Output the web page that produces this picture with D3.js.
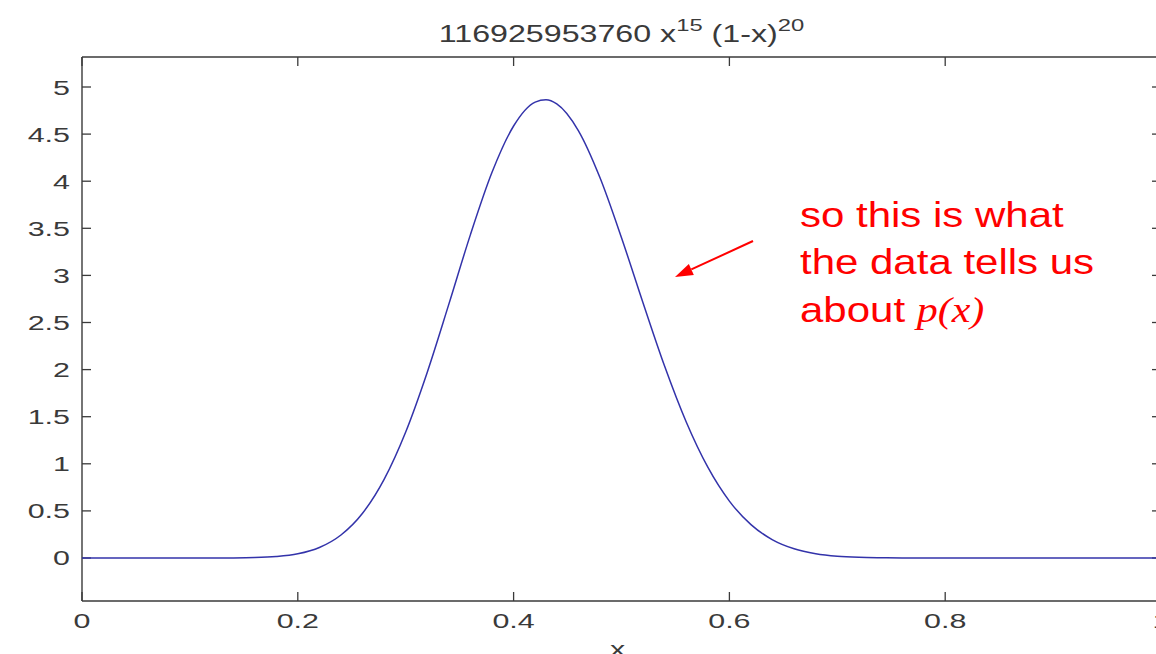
<!DOCTYPE html>
<html>
<head>
<meta charset="utf-8">
<script src="https://cdn.jsdelivr.net/npm/d3@7"></script>
<style>
html,body{margin:0;padding:0;background:#fff;}
svg{display:block;}
</style>
</head>
<body>
<svg id="chart" width="1156" height="654"></svg>
<script>
// Values
const xValues = [0, 0.10, 0.12, 0.14, 0.16, 0.18, 0.20, 0.22, 0.24, 0.26, 0.28, 0.30, 0.32, 0.34, 0.36, 0.38, 0.40, 0.42, 0.43, 0.44, 0.46, 0.48, 0.50, 0.52, 0.54, 0.56, 0.58, 0.60, 0.62, 0.64, 0.66, 0.68, 0.70, 0.72, 0.74, 0.76, 0.80, 1.0];
const yValues = [0, 0.000, 0.0001, 0.0009, 0.004, 0.015, 0.044, 0.111, 0.244, 0.475, 0.835, 1.338, 1.973, 2.695, 3.433, 4.094, 4.586, 4.840, 4.865, 4.821, 4.538, 4.039, 3.400, 2.707, 2.035, 1.444, 0.964, 0.604, 0.354, 0.193, 0.098, 0.046, 0.019, 0.007, 0.0025, 0.0008, 0, 0];
const xTicks = [0, 0.2, 0.4, 0.6, 0.8, 1];
const xTickLabels = ["0", "0.2", "0.4", "0.6", "0.8", "1"];
const yTicks = [0, 0.5, 1, 1.5, 2, 2.5, 3, 3.5, 4, 4.5, 5];
const yTickLabels = ["0", "0.5", "1", "1.5", "2", "2.5", "3", "3.5", "4", "4.5", "5"];
const yLimits = [-0.4565, 5.3185];
const annotationLines = ["so this is what", "the data tells us", "about "];

(function () {
const svg = d3.select("#chart");
const pLeft = 82, pRight = 1161, pTop = 57, pBottom = 601;
const x = d3.scaleLinear().domain([0, 1]).range([pLeft, pRight]);
const y = d3.scaleLinear().domain(yLimits).range([pBottom, pTop]);

const axisColor = "#3a3a3a";
const textColor = "#3a3a3a";
const SX = 1.45;
const tickLen = 9;

// plot box
const box = svg.append("g").attr("stroke", axisColor).attr("stroke-width", 1.4).attr("fill", "none");
box.append("line").attr("x1", pLeft).attr("x2", pLeft).attr("y1", pTop).attr("y2", pBottom);
box.append("line").attr("x1", pLeft).attr("x2", pRight).attr("y1", pBottom).attr("y2", pBottom);
box.append("line").attr("x1", pLeft).attr("x2", pRight).attr("y1", pTop).attr("y2", pTop);
box.append("line").attr("x1", pRight).attr("x2", pRight).attr("y1", pTop).attr("y2", pBottom);

// ticks
const tk = svg.append("g").attr("stroke", axisColor).attr("stroke-width", 1.3);
xTicks.forEach(v => {
  tk.append("line").attr("x1", x(v)).attr("x2", x(v)).attr("y1", pBottom).attr("y2", pBottom - tickLen);
  tk.append("line").attr("x1", x(v)).attr("x2", x(v)).attr("y1", pTop).attr("y2", pTop + tickLen);
});
yTicks.forEach(v => {
  tk.append("line").attr("x1", pLeft).attr("x2", pLeft + tickLen).attr("y1", y(v)).attr("y2", y(v));
  tk.append("line").attr("x1", pRight).attr("x2", pRight - tickLen).attr("y1", y(v)).attr("y2", y(v));
});

// tick labels
const fontFam = "'Liberation Sans', Arial, Helvetica, sans-serif";
xTicks.forEach((v, i) => {
  svg.append("text")
    .attr("transform", `translate(${x(v)},628) scale(${SX},1)`)
    .attr("text-anchor", "middle")
    .attr("font-family", fontFam).attr("font-size", 21)
    .attr("fill", textColor)
    .text(xTickLabels[i]);
});
yTicks.forEach((v, i) => {
  svg.append("text")
    .attr("transform", `translate(70,${y(v) + 7.5}) scale(${SX},1)`)
    .attr("text-anchor", "end")
    .attr("font-family", fontFam).attr("font-size", 21)
    .attr("fill", textColor)
    .text(yTickLabels[i]);
});

// x axis label
svg.append("text")
  .attr("transform", `translate(${(pLeft + pRight) / 2 - 4},656) scale(${SX},1)`)
  .attr("text-anchor", "middle")
  .attr("font-family", fontFam).attr("font-size", 21)
  .attr("fill", textColor)
  .text("x");

// title
const title = svg.append("text")
  .attr("transform", `translate(${(pLeft + pRight) / 2},42) scale(1.4,1)`)
  .attr("text-anchor", "middle")
  .attr("font-family", fontFam).attr("font-size", 23)
  .attr("fill", textColor);
title.append("tspan").text("116925953760 x");
title.append("tspan").attr("font-size", 17).attr("dy", -11).text("15");
title.append("tspan").attr("dy", 11).text(" (1-x)");
title.append("tspan").attr("font-size", 17).attr("dy", -11).text("20");

// curve
const pts = xValues.map((v, i) => [v, yValues[i]]);
const line = d3.line().x(d => x(d[0])).y(d => y(d[1])).curve(d3.curveMonotoneX);
svg.append("path")
  .datum(pts)
  .attr("d", line)
  .attr("fill", "none")
  .attr("stroke", "#3333aa")
  .attr("stroke-width", 1.5);

// annotation
const red = "#ff0000";
const ann = svg.append("g");
const baselines = [227, 274, 322];
annotationLines.forEach((t, i) => {
  const tx = ann.append("text")
    .attr("transform", `translate(800,${baselines[i]}) scale(1.2,1)`)
    .attr("font-family", fontFam).attr("font-size", 35)
    .attr("fill", red)
    .text(t);
  if (i === 2) {
    tx.append("tspan")
      .attr("font-family", "'Liberation Serif', 'Times New Roman', serif")
      .attr("font-style", "italic")
      .text("p(x)");
  }
});

// arrow
const ax1 = 753, ay1 = 241, ax2 = 675, ay2 = 277;
const ang = Math.atan2(ay2 - ay1, ax2 - ax1);
const hl = 18, hw = 6;
const bx = ax2 - hl * Math.cos(ang), by = ay2 - hl * Math.sin(ang);
ann.append("line").attr("x1", ax1).attr("y1", ay1).attr("x2", bx).attr("y2", by)
  .attr("stroke", red).attr("stroke-width", 2);
ann.append("path")
  .attr("d", `M${ax2},${ay2} L${bx + hw * Math.sin(ang)},${by - hw * Math.cos(ang)} L${bx - hw * Math.sin(ang)},${by + hw * Math.cos(ang)} Z`)
  .attr("fill", red);
})();
</script>
</body>
</html>
